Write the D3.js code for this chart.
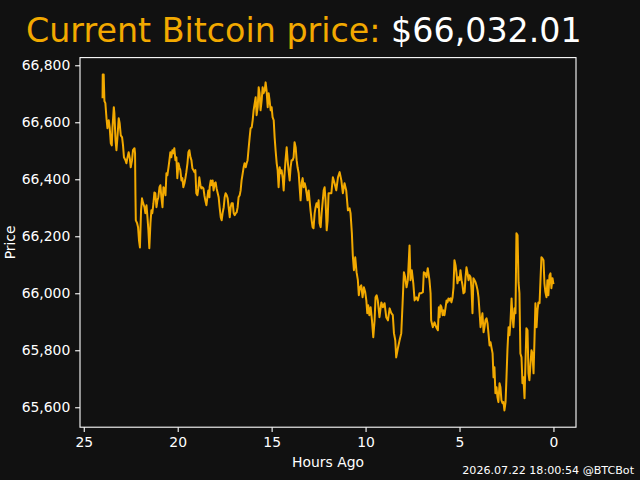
<!DOCTYPE html>
<html><head><meta charset="utf-8">
<script src="https://cdn.jsdelivr.net/npm/d3@7"></script>
<style>html,body{margin:0;padding:0;background:#111111;} svg{display:block;}</style>
</head><body>
<svg id="c" width="640" height="480"></svg>
<script>
const hoursAgo = [
24.00,23.99,23.94,23.90,23.85,23.79,23.74,23.67,23.62,23.56,
23.51,23.47,23.40,23.37,23.31,23.26,23.21,23.14,23.09,23.03,
22.96,22.91,22.86,22.78,22.73,22.68,22.61,22.55,22.50,22.43,
22.38,22.30,22.27,22.25,22.23,22.16,22.11,22.06,22.01,21.95,
21.90,21.85,21.77,21.72,21.66,21.61,21.56,21.51,21.45,21.40,
21.35,21.29,21.24,21.19,21.13,21.08,21.03,20.97,20.92,20.87,
20.81,20.76,20.71,20.65,20.60,20.55,20.49,20.44,20.39,20.34,
20.28,20.23,20.18,20.12,20.07,20.02,19.96,19.91,19.86,19.80,
19.75,19.70,19.64,19.59,19.54,19.48,19.43,19.38,19.32,19.27,
19.22,19.16,19.11,19.06,19.01,18.95,18.90,18.85,18.79,18.74,
18.69,18.63,18.58,18.53,18.47,18.42,18.37,18.31,
18.30,18.24,18.19,18.14,18.09,18.03,17.98,17.93,17.87,17.82,
17.77,17.71,17.66,17.61,17.55,17.50,17.45,17.39,17.34,17.29,
17.23,17.18,17.13,17.07,17.02,16.97,16.91,16.86,16.81,16.76,
16.70,16.65,16.60,16.54,16.49,16.44,16.38,16.33,16.28,16.22,
16.17,16.12,16.06,16.01,15.96,15.90,15.85,15.80,15.74,15.69,
15.64,15.59,15.53,15.48,15.43,15.37,15.32,15.27,15.21,15.16,
15.11,15.05,15.00,14.95,14.89,14.84,14.79,14.73,14.68,14.63,
14.57,14.52,14.47,14.41,14.36,14.31,14.26,14.20,14.15,14.10,
14.04,13.99,13.94,13.88,13.83,13.78,13.72,13.67,13.62,13.56,
13.51,13.46,13.40,13.35,13.30,13.24,13.19,13.14,13.09,13.03,
12.98,12.93,12.87,12.82,12.77,12.71,12.66,12.61,12.55,12.50,
12.45,12.39,12.34,12.29,12.23,12.18,12.13,12.07,12.02,11.97,
11.91,11.82,11.74,11.65,11.56,11.47,11.38,11.29,11.21,11.12,
11.03,10.94,10.85,10.80,10.73,10.68,10.62,10.55,10.48,10.41,
10.36,10.30,10.23,10.16,10.09,10.02,9.96,9.91,9.86,9.80,
9.73,9.66,9.59,9.52,9.47,9.41,9.35,9.26,9.16,9.08,
8.99,8.90,8.81,8.72,8.63,8.55,8.49,8.42,8.37,8.28,
8.19,8.10,8.03,7.96,7.89,7.82,7.75,7.66,7.61,7.54,
7.46,7.39,7.30,7.22,7.13,7.04,6.95,6.90,6.82,6.76,
6.69,6.60,6.54,6.51,6.42,6.33,6.24,6.15,6.10,
6.06,6.01,5.96,5.90,5.85,5.80,5.74,5.69,5.64,5.59,
5.53,5.48,5.43,5.37,5.32,5.27,5.21,5.16,5.11,5.05,
5.00,4.95,4.89,4.84,4.79,4.73,4.68,4.63,4.57,4.52,
4.47,4.41,4.36,4.31,4.26,4.20,4.15,4.10,4.04,3.99,
3.94,3.88,3.83,3.78,3.72,3.67,3.62,3.56,3.51,3.46,
3.40,3.35,3.30,3.24,3.19,3.14,3.09,3.03,2.98,2.93,
2.87,2.82,2.77,2.71,2.66,2.61,2.55,2.50,2.45,2.39,
2.34,2.29,2.23,2.18,2.13,2.07,2.02,1.97,1.91,1.86,
1.81,1.76,1.70,1.65,1.60,1.54,1.49,1.44,1.38,1.33,
1.28,1.22,1.17,1.12,1.06,1.01,0.96,0.90,0.85,0.80,
0.74,0.69,0.64,0.59,0.53,0.48,0.43,0.37,0.32,0.27,
0.21,0.16,0.11,0.05,0.00
];
const price = [
66684,66768,66768,66674,66667,66614,66579,66607,66582,66526,
66519,66582,66653,66632,66537,66502,66544,66614,66597,66554,
66547,66519,66477,66467,66456,66474,66495,66474,66442,66467,
66502,66509,66491,66351,66256,66246,66232,66186,66161,66291,
66333,66319,66302,66281,66309,66267,66221,66158,66246,66291,
66281,66316,66354,66351,66302,66326,66337,66372,66379,66337,
66302,66372,66368,66344,66421,66414,66442,66467,66495,66477,
66502,66491,66509,66467,66477,66404,66456,66442,66432,66396,
66404,66372,66386,66404,66425,66456,66495,66502,66477,66467,
66439,66432,66425,66432,66351,66344,66368,66407,66379,66368,
66372,66368,66344,66326,66309,66337,66361,66337,
66372,66396,66379,66396,66361,66386,66389,66368,66351,66337,
66302,66267,66256,66281,66302,66337,66351,66344,66333,66302,
66267,66302,66316,66316,66281,66274,66281,66284,66302,66337,
66344,66361,66396,66421,66442,66456,66442,66456,66467,66512,
66547,66579,66582,66607,66642,66667,66688,66625,66653,66723,
66702,66642,66677,66723,66702,66712,66740,66712,66653,66702,
66677,66642,66653,66618,66607,66547,66502,66456,66432,66372,
66442,66421,66432,66404,66361,66421,66467,66512,66467,66432,
66396,66442,66467,66467,66477,66530,66512,66467,66442,66421,
66372,66326,66389,66404,66372,66386,66372,66351,66326,66361,
66326,66291,66256,66232,66228,66281,66302,66316,66302,66326,
66246,66232,66281,66316,66361,66372,66326,66221,66256,66351,
66351,66351,66407,66386,66361,66407,66425,66396,66351,66386,
66361,66291,66298,66281,66211,66133,66081,66126,66074,66046,
65993,66021,66028,65986,66021,66004,65975,65930,65958,65923,
65951,65905,65846,65905,65986,65993,65975,65916,65968,65951,
65965,65916,65905,65947,65930,65923,65860,65835,65775,65807,
65835,65860,65965,66074,66056,66021,66046,66168,66046,66081,
66035,65975,65986,65975,66000,66000,66004,66074,66070,66056,
66088,66046,66000,65905,65881,65898,65881,65870,65951,
65916,65958,65951,65923,65940,65923,65951,65975,65968,65982,
65975,65982,65968,65986,66021,66116,66098,66070,66035,66056,
66046,66081,66046,66028,66000,66004,66056,66091,66070,66046,
66063,66056,66011,65930,66053,66046,66039,66028,66011,65986,
65940,65881,65905,65930,65863,65881,65905,65912,65895,65860,
65817,65828,65810,65789,65705,65740,65649,65670,65635,65618,
65684,65670,65625,65614,65618,65589,65618,65705,65800,65881,
65853,65895,65982,65916,65881,65947,65930,66211,66204,66039,
66000,65789,65775,65684,65705,65632,65754,65877,65870,65719,
65695,65754,65800,65789,65719,65835,65965,65881,65940,65968,
65965,66046,66126,66123,66116,66035,66004,65986,66046,65993,
66063,66070,66018,66053,66032
];
const yTicks = [65600, 65800, 66000, 66200, 66400, 66600, 66800];
const xTicks = [25, 20, 15, 10, 5, 0];
const titleLabel = "Current Bitcoin price: ";
const titleValue = "$66,032.01";
const xLabel = "Hours Ago";
const yLabel = "Price";
const footer = "2026.07.22 18:00:54 @BTCBot";

const ORANGE = "#f2a900";
const FONT = "DejaVu Sans, sans-serif";
const box = {left: 80, right: 576, top: 57.6, bottom: 427.2};
const svg = d3.select("#c");
svg.append("rect").attr("width", 640).attr("height", 480).attr("fill", "#111111");

const data = d3.zip(hoursAgo, price);
const [hx0, hx1] = d3.extent(hoursAgo);
const hp = (hx1 - hx0) * 0.05;
const x = d3.scaleLinear().domain([hx1 + hp, hx0 - hp]).range([box.left, box.right]);
const [py0, py1] = d3.extent(price);
const pp = (py1 - py0) * 0.05;
const y = d3.scaleLinear().domain([py0 - pp, py1 + pp]).range([box.bottom, box.top]);

// line
svg.append("path").datum(data)
  .attr("fill", "none").attr("stroke", ORANGE).attr("stroke-width", 2)
  .attr("stroke-linejoin", "round")
  .attr("d", d3.line().x(d => x(d[0])).y(d => y(d[1])));

// axes
const tickLen = 4.86, pad = 4.86;
const gy = svg.append("g").attr("transform", `translate(${box.left},0)`)
  .call(d3.axisLeft(y).tickValues(yTicks).tickFormat(d3.format(",")).tickSize(tickLen).tickPadding(pad));
const gx = svg.append("g").attr("transform", `translate(0,${box.bottom})`)
  .call(d3.axisBottom(x).tickValues(xTicks).tickFormat(d3.format("d")).tickSize(tickLen).tickPadding(pad));
[gx, gy].forEach(g => {
  g.select(".domain").remove();
  g.selectAll("line").attr("stroke", "#ffffff").attr("stroke-width", 1.1);
  g.selectAll("text").attr("fill", "#ffffff").attr("font-family", FONT).attr("font-size", 13.9);
});

// frame
svg.append("rect").attr("x", box.left).attr("y", box.top)
  .attr("width", box.right - box.left).attr("height", box.bottom - box.top)
  .attr("fill", "none").attr("stroke", "#ffffff").attr("stroke-width", 1.1);

// labels
svg.append("text").attr("x", (box.left + box.right) / 2).attr("y", 467)
  .attr("text-anchor", "middle").attr("fill", "#ffffff")
  .attr("font-family", FONT).attr("font-size", 13.9).text(xLabel);
svg.append("text").attr("transform", `translate(14.5,${(box.top + box.bottom) / 2}) rotate(-90)`)
  .attr("text-anchor", "middle").attr("fill", "#ffffff")
  .attr("font-family", FONT).attr("font-size", 13.9).text(yLabel);

const t = svg.append("text").attr("x", 26).attr("y", 41.5)
  .attr("font-family", FONT).attr("font-size", 33.3);
t.append("tspan").attr("fill", ORANGE).text(titleLabel);
t.append("tspan").attr("fill", "#ffffff").text(titleValue);
t.attr("xml:space", "preserve").style("white-space", "pre");

svg.append("text").attr("x", 634).attr("y", 474)
  .attr("text-anchor", "end").attr("fill", "#ffffff")
  .attr("font-family", FONT).attr("font-size", 11.1).text(footer);
</script>
</body></html>
